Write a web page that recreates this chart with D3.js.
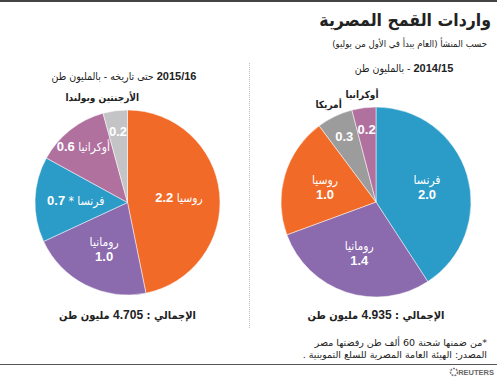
<!DOCTYPE html>
<html>
<head>
<meta charset="utf-8">
<script src="https://cdn.jsdelivr.net/npm/d3@7"></script>
<style>
	body{margin:0;background:#fff;}
	svg{font-family:"Liberation Sans","DejaVu Sans Condensed","DejaVu Sans",sans-serif;}
	.ar{font-family:"DejaVu Sans Condensed","DejaVu Sans",sans-serif;font-stretch:condensed;}
	.title{font-size:17.5px;font-weight:bold;fill:#222;}
	.sub{font-size:9.5px;fill:#222;}
	.head{font-size:11px;font-weight:bold;fill:#222;}
	.inlab{font-size:13px;font-weight:bold;fill:#fff;}
	.outlab{font-size:10px;font-weight:bold;fill:#222;}
	.total{font-size:11px;font-weight:bold;fill:#222;}
	.note{font-size:9.5px;fill:#222;font-family:"DejaVu Sans",sans-serif;}
</style>
</head>
<body>
<script>
// data
var names2015 = ["روسيا", "رومانيا", "فرنسا *", "أوكرانيا", "الأرجنتين وبولندا"];
var values2015 = [2.2, 1.0, 0.7, 0.6, 0.2];
var total2015 = "4.705";

var names2014 = ["فرنسا", "رومانيا", "روسيا", "أمريكا", "أوكرانيا"];
var values2014 = [2.0, 1.4, 1.0, 0.3, 0.2];
var total2014 = "4.935";

var w = 497, h = 378;

var svg = d3.select("body").append("svg")
	.attr("width", w)
	.attr("height", h);

//colour per origin
var color = d3.scaleOrdinal()
	.domain(["روسيا", "رومانيا", "فرنسا", "فرنسا *", "أوكرانيا", "الأرجنتين وبولندا", "أمريكا"])
	.range(["#f26a27", "#8b6aae", "#2b9bc8", "#2b9bc8", "#b0719f", "#c4c4c6", "#9c9c9c"]);

//top rule
svg.append("rect").attr("x", 0).attr("y", 0).attr("width", w).attr("height", 2).style("fill", "#444");

//titles
svg.append("text").attr("class", "title ar").attr("x", 491).attr("y", 26)
	.attr("direction", "rtl").attr("text-anchor", "start").text("واردات القمح المصرية");
svg.append("text").attr("class", "sub ar").attr("x", 487).attr("y", 47)
	.attr("direction", "rtl").attr("text-anchor", "start").text("حسب المنشأ (العام يبدأ في الأول من يوليو)");

//header above each pie: bold year + plain arabic
function header(x, y, year, rest){
	var t = svg.append("text").attr("class", "head")
		.attr("x", x).attr("y", y)
		.attr("direction", "rtl").attr("text-anchor", "middle");
	t.append("tspan").text(year);
	t.append("tspan").attr("class", "ar").style("font-weight", "normal").style("font-size", "10.5px").text(rest);
}
header(404, 72, "2014/15", " - بالمليون طن");
header(124, 80, "2015/16", "  حتى تاريخه - بالمليون طن");

//dotted divider
svg.append("line").attr("x1", 249.5).attr("x2", 249.5).attr("y1", 63).attr("y2", 328)
	.style("stroke", "#bbb").style("stroke-dasharray", "1,1");

//draw one pie
function drawPie(names, values, cx, cy, r, stacked, total){
	var data = names.map(function(n, i){ return {name: n, value: values[i]}; });
	var sum = d3.sum(values);
	var pie = d3.pie().sort(null).value(function(d){ return d.value; });
	var arc = d3.arc().innerRadius(0).outerRadius(r);
	var arcs = pie(data);

	var g = svg.append("g").attr("transform", "translate(" + cx + "," + cy + ")");

	g.selectAll(".slice")
		.data(arcs)
		.enter()
		.append("path")
		.attr("class", "slice")
		.attr("d", arc)
		.style("fill", function(d){ return color(d.data.name); })
		.style("stroke", "#fff")
		.style("stroke-width", 0.5);

	var labels = g.selectAll(".inlab")
		.data(arcs)
		.enter()
		.append("text")
		.attr("class", "inlab")
		.attr("direction", "rtl")
		.attr("text-anchor", "middle")
		.attr("transform", function(d){
			var share = d.data.value / sum;
			var k = share < 0.14 ? 0.77 : 0.56;
			var a = (d.startAngle + d.endAngle) / 2;
			return "translate(" + (Math.sin(a) * r * k) + "," + (-Math.cos(a) * r * k) + ")";
		});

	labels.each(function(d, i){
		var t = d3.select(this);
		var share = d.data.value / sum;
		var v = d3.format(".1f")(d.data.value);
		if(share < 0.07){
			t.append("tspan").attr("x", 0).attr("dy", "0.35em").text(v);
		} else if(stacked[i]){
			t.append("tspan").attr("x", 0).attr("dy", "-0.2em").attr("class", "ar")
				.style("font-weight", "normal").style("font-size", "12px").text(d.data.name);
			t.append("tspan").attr("x", 0).attr("dy", "1.15em").text(v);
		} else {
			t.append("tspan").attr("class", "ar").style("font-weight", "normal").style("font-size", "12px")
				.attr("dy", "0.35em").text(d.data.name + " ");
			t.append("tspan").text(v);
		}
	});

	//names of small slices go outside
	g.selectAll(".outlab")
		.data(arcs.filter(function(d){ return d.data.value / sum < 0.07; }))
		.enter()
		.append("text")
		.attr("class", "outlab ar")
		.attr("direction", "rtl")
		.attr("text-anchor", "middle")
		.attr("x", function(d){ var a = (d.startAngle + d.endAngle) / 2; return Math.sin(a) * r * 1.15 - (d.data.name.length > 10 ? 11 : 0); })
		.attr("y", function(d){ var a = (d.startAngle + d.endAngle) / 2; return -Math.cos(a) * r * 1.15 + 4; })
		.text(function(d){ return d.data.name; });

	//total line
	var tl = svg.append("text")
		.attr("class", "total")
		.attr("direction", "rtl")
		.attr("text-anchor", "middle")
		.attr("x", cx)
		.attr("y", 319);
	tl.append("tspan").attr("class", "ar").text("الإجمالي : ");
	tl.append("tspan").style("font-size", "12px").text(total);
	tl.append("tspan").attr("class", "ar").text(" مليون طن");
}

drawPie(names2015, values2015, 127.5, 202.5, 92.5, [false, true, false, false, false], total2015);
drawPie(names2014, values2014, 376, 202, 95, [true, true, true, false, false], total2014);

//footnotes
svg.append("text").attr("class", "note").attr("x", 487).attr("y", 346)
	.attr("direction", "rtl").attr("text-anchor", "start").text("*من ضمنها شحنة 60 ألف طن رفضتها مصر");
svg.append("text").attr("class", "note").attr("x", 487).attr("y", 358)
	.attr("direction", "rtl").attr("text-anchor", "start").text("المصدر: الهيئة العامة المصرية للسلع التموينية .");

//bottom rule and logo
svg.append("line").attr("x1", 0).attr("x2", w).attr("y1", 364.5).attr("y2", 364.5)
	.style("stroke", "#555").style("stroke-width", 1);
svg.append("circle").attr("cx", 454).attr("cy", 372).attr("r", 3.5)
	.style("fill", "none").style("stroke", "#777").style("stroke-width", 1.5).style("stroke-dasharray", "2,1");
svg.append("text").attr("x", 494).attr("y", 375).attr("text-anchor", "end")
	.style("font-size", "7.5px").style("font-weight", "bold").style("fill", "#666").text("REUTERS");
</script>
</body>
</html>
